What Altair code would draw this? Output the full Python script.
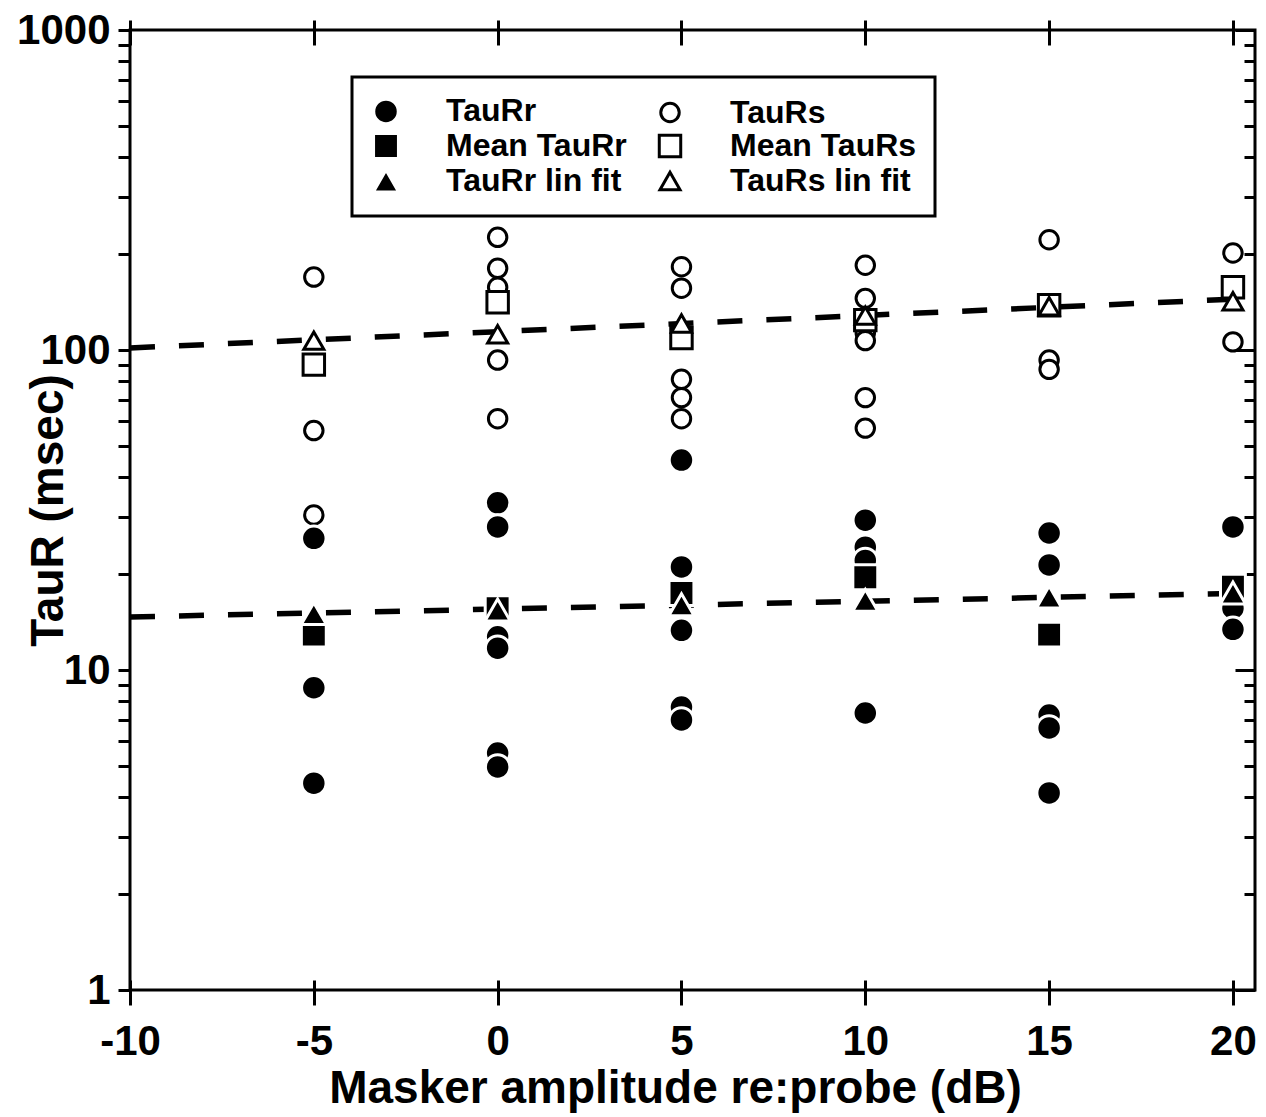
import altair as alt
import pandas as pd

# ---------------- data ----------------
taurs_x = [-5, -5, -5, 0, 0, 0, 0, 0, 5, 5, 5, 5, 5, 10, 10, 10, 10, 10, 10, 15, 15, 15, 20, 20]
taurs_y = [169, 56, 30.5, 225, 180, 157, 93, 61, 182, 156, 81, 71, 61, 184, 145, 113, 107, 71, 57, 221, 93, 87, 201, 106]

taurr_x = [-5, -5, -5, 0, 0, 0, 0, 0, 0, 5, 5, 5, 5, 5, 10, 10, 10, 10, 15, 15, 15, 15, 15, 20, 20, 20]
taurr_y = [25.8, 8.8, 4.43, 33.3, 28, 12.7, 11.7, 5.5, 4.98, 45.3, 21, 13.3, 7.66, 6.98,
           29.4, 24.2, 22, 7.34, 26.8, 21.3, 7.23, 6.59, 4.13, 28, 15.6, 13.4]

level_x = [-5, 0, 5, 10, 15, 20]
mean_taurs = [90, 141, 109, 124, 138, 157]
mean_taurr = [12.9, 15.6, 17.4, 19.5, 12.9, 18.2]
fit_taurs = [107, 112, 121, 128, 137, 142]
fit_taurr = [15.0, 15.4, 16.0, 16.5, 16.9, 17.4]

line_x = [-10, 20.5]
line_taurs = [101.5, 145]
line_taurr = [14.65, 17.4]

# legend fills column by column: left column = TauRr family, right = TauRs family
series_order = ["TauRr", "Mean TauRr", "TauRr lin fit", "TauRs", "Mean TauRs", "TauRs lin fit"]
shapes = ["circle", "square", "triangle-up", "circle", "square", "triangle-up"]
fills = ["black", "black", "black", "white", "white", "white"]
strokes = ["white", "white", "white", "black", "black", "black"]
sizes = [600, 620, 640, 340, 460, 400]

x_ticks = [-10, -5, 0, 5, 10, 15, 20]
y_major = [1, 10, 100, 1000]
y_all = [1, 2, 3, 4, 5, 6, 7, 8, 9, 10, 20, 30, 40, 50, 60, 70, 80, 90,
         100, 200, 300, 400, 500, 600, 700, 800, 900, 1000]
y_minor = [v for v in y_all if v not in y_major]

# ---------------- tables ----------------
rows = []
for x, y in zip(taurs_x, taurs_y):
    rows.append({"x": x, "y": y, "series": "TauRs", "o": 0})
for x, y in zip(level_x, mean_taurs):
    rows.append({"x": x, "y": y, "series": "Mean TauRs", "o": 1})
for x, y in zip(level_x, fit_taurs):
    rows.append({"x": x, "y": y, "series": "TauRs lin fit", "o": 2})
for x, y in zip(taurr_x, taurr_y):
    rows.append({"x": x, "y": y, "series": "TauRr", "o": 3})
for x, y in zip(level_x, mean_taurr):
    rows.append({"x": x, "y": y, "series": "Mean TauRr", "o": 4})
for x, y in zip(level_x, fit_taurr):
    rows.append({"x": x, "y": y, "series": "TauRr lin fit", "o": 5})
pts = pd.DataFrame(rows)

lines = pd.DataFrame(
    [{"x": x, "y": y, "fit": "TauRs"} for x, y in zip(line_x, line_taurs)]
    + [{"x": x, "y": y, "fit": "TauRr"} for x, y in zip(line_x, line_taurr)]
)

FONT = "Liberation Sans"
xscale = alt.Scale(domain=[-10, 20.6], nice=False, zero=False)
yscale = alt.Scale(type="log", domain=[1, 1000], nice=False)

common_ax = dict(grid=False, domain=False, tickColor="black", tickWidth=3,
                 labelFlush=False, labelOverlap=False)

ax_bottom = alt.Axis(orient="bottom", values=x_ticks, tickSize=15, labels=True,
                     labelExpr="'' + datum.value",
                     labelFont=FONT, labelFontSize=42, labelFontWeight="bold",
                     labelColor="black", labelPadding=16,
                     title="Masker amplitude re:probe (dB)", titleFont=FONT,
                     titleFontSize=46, titleFontWeight="bold", titleColor="black",
                     titleX=545, titleY=112, titleAlign="center",
                     titleBaseline="alphabetic", **common_ax)
ax_bottom_in = alt.Axis(orient="bottom", values=x_ticks, offset=-10, tickSize=10,
                        labels=False, title=None, **common_ax)
ax_top = alt.Axis(orient="top", values=x_ticks, tickSize=10, labels=False,
                  title=None, **common_ax)
ax_top_in = alt.Axis(orient="top", values=x_ticks, offset=-15, tickSize=15,
                     labels=False, title=None, **common_ax)

ax_left = alt.Axis(orient="left", values=y_all, tickSize=12, format="d",
                   labelExpr="indexof(['1','10','100','1000'], datum.label) >= 0 ? datum.label : ''",
                   labelFont=FONT, labelFontSize=42, labelFontWeight="bold",
                   labelColor="black", labelPadding=8,
                   title="TauR (msec)", titleFont=FONT, titleFontSize=46,
                   titleFontWeight="bold", titleColor="black", titleAngle=270,
                   titleX=-82, titleY=480, titleAlign="center", titleBaseline="middle",
                   **common_ax)
ax_right_minor = alt.Axis(orient="right", values=y_minor, offset=-11, tickSize=11,
                          labels=False, title=None, **common_ax)
ax_right_major = alt.Axis(orient="right", values=y_major, offset=-20, tickSize=20,
                          labels=False, title=None, **common_ax)

fit_lines = alt.Chart(lines).mark_line(
    color="black", strokeWidth=5.5, strokeDash=[25, 24]
).encode(
    x=alt.X("x:Q", scale=xscale, axis=ax_bottom),
    y=alt.Y("y:Q", scale=yscale, axis=ax_left),
    detail="fit:N",
)

legend = alt.Legend(
    title=None, orient="none", legendX=222, legendY=47, columns=2,
    padding=18, strokeColor="black", fillColor="white",
    labelFont=FONT, labelFontSize=32, labelFontWeight="bold", labelColor="black",
    labelLimit=500, labelOffset=44, columnPadding=26, rowPadding=-9,
    symbolStrokeWidth=3, symbolOpacity=1,
)

points = alt.Chart(pts).mark_point(filled=True, strokeWidth=3, opacity=1).encode(
    x=alt.X("x:Q", scale=xscale, axis=ax_bottom_in),
    y=alt.Y("y:Q", scale=yscale, axis=ax_right_minor),
    shape=alt.Shape("series:N", scale=alt.Scale(domain=series_order, range=shapes), legend=legend),
    fill=alt.Fill("series:N", scale=alt.Scale(domain=series_order, range=fills), legend=legend),
    stroke=alt.Stroke("series:N", scale=alt.Scale(domain=series_order, range=strokes), legend=legend),
    size=alt.Size("series:N", scale=alt.Scale(type="ordinal", domain=series_order, range=sizes), legend=legend),
    order=alt.Order("o:Q"),
)

dummy1 = alt.Chart(lines).mark_line(opacity=0).encode(
    x=alt.X("x:Q", scale=xscale, axis=ax_top),
    y=alt.Y("y:Q", scale=yscale, axis=ax_right_major),
    detail="fit:N",
)
dummy2 = alt.Chart(lines).mark_line(opacity=0).encode(
    x=alt.X("x:Q", scale=xscale, axis=ax_top_in),
    y=alt.Y("y:Q", scale=yscale, axis=None),
    detail="fit:N",
)

chart = alt.layer(fit_lines, points, dummy1, dummy2).resolve_axis(
    x="independent", y="independent"
).properties(
    width=1125, height=960,
    padding={"left": 130, "top": 30, "right": 11, "bottom": 127},
    autosize="none",
    background="white",
).configure_view(stroke="black", strokeWidth=3).configure_legend(strokeWidth=3)

chart.save("out.html", embed_options={"renderer": "svg", "actions": False})
